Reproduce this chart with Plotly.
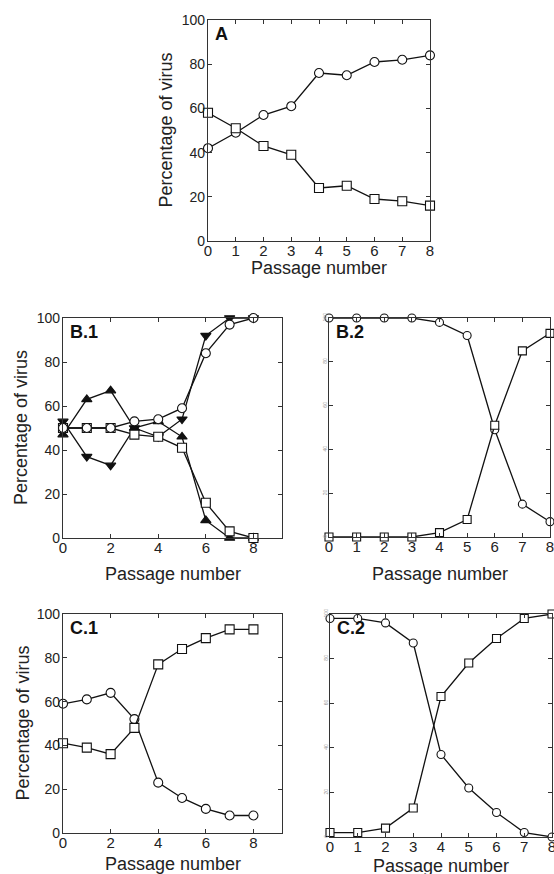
import plotly.graph_objects as go

W, H = 554, 874

passage = [0, 1, 2, 3, 4, 5, 6, 7, 8]

A_circle = [42, 49, 57, 61, 76, 75, 81, 82, 84]
A_square = [58, 51, 43, 39, 24, 25, 19, 18, 16]

B1_circle = [50, 50, 50, 53, 54, 59, 84, 97, 100]
B1_square = [50, 50, 50, 47, 46, 41, 16, 3, 0]
B1_tri_up = [47, 63, 67, 50, 53, 46, 8, 0, 0]
B1_tri_down = [53, 37, 33, 50, 46, 54, 92, 100, 100]

B2_circle = [100, 100, 100, 100, 98, 92, 49, 15, 7]
B2_square = [0, 0, 0, 0, 2, 8, 51, 85, 93]

C1_circle = [59, 61, 64, 52, 23, 16, 11, 8, 8]
C1_square = [41, 39, 36, 48, 77, 84, 89, 93, 93]

C2_circle = [98, 98, 96, 87, 37, 22, 11, 2, 0]
C2_square = [2, 2, 4, 13, 63, 78, 89, 98, 100]

y_ticks = [0, 20, 40, 60, 80, 100]
panel_labels = ["A", "B.1", "B.2", "C.1", "C.2"]
x_title = "Passage number"
y_title = "Percentage of virus"

FONT = "Liberation Sans, Arial, sans-serif"
AX = "#333333"

# panel boxes in pixels: (left, right, top, bottom)
panels = {
    "A": (208, 430, 20, 241),
    "B.1": (63, 282, 318, 538),
    "B.2": (329, 550, 318, 537),
    "C.1": (63, 282, 614, 833),
    "C.2": (330, 552, 614, 837),
}
xranges = {"A": [0, 8], "B.1": [0, 9.2], "B.2": [0, 8], "C.1": [0, 9.2], "C.2": [0, 8]}
xdticks = {"A": 1, "B.1": 2, "B.2": 1, "C.1": 2, "C.2": 1}
tiny_y = {"B.2", "C.2"}

fig = go.Figure()
layout = dict(width=W, height=H,
              margin=dict(l=0, r=0, t=0, b=0, pad=0, autoexpand=False),
              paper_bgcolor="white", plot_bgcolor="white", showlegend=False,
              font=dict(family=FONT, color="#222"))
annotations = []

series = {
    "A": [(A_circle, "circle-open"), (A_square, "square-open")],
    "B.1": [(B1_tri_up, "triangle-up"), (B1_tri_down, "triangle-down"),
            (B1_square, "square-open"), (B1_circle, "circle-open")],
    "B.2": [(B2_circle, "circle-open"), (B2_square, "square-open")],
    "C.1": [(C1_circle, "circle-open"), (C1_square, "square-open")],
    "C.2": [(C2_circle, "circle-open"), (C2_square, "square-open")],
}

for i, name in enumerate(panel_labels):
    l, r, t, b = panels[name]
    n = "" if i == 0 else str(i + 1)
    xa, ya = "xaxis" + n, "yaxis" + n
    layout[xa] = dict(domain=[l / W, r / W], range=xranges[name], anchor="y" + n,
                      tickmode="linear", tick0=0, dtick=xdticks[name],
                      ticks="inside", ticklen=4, tickcolor=AX, showline=True,
                      linecolor=AX, linewidth=1.2, mirror="ticks", showgrid=False,
                      zeroline=False, tickfont=dict(size=15, color="#222"),
                      automargin=False, ticklabelstandoff=-4,
                      ticklabeloverflow="allow")
    ytf = dict(size=5, color="#999") if name in tiny_y else dict(size=14, color="#222")
    layout[ya] = dict(domain=[1 - b / H, 1 - t / H], range=[0, 100], anchor="x" + n,
                      tickmode="array", tickvals=y_ticks,
                      ticks="inside", ticklen=4, tickcolor=AX, showline=True,
                      linecolor=AX, linewidth=1.2, mirror="ticks", showgrid=False,
                      zeroline=False, tickfont=ytf, automargin=False,
                      tickangle=-90 if name in tiny_y else 0,
                      ticklabelstandoff=-1, ticklabeloverflow="allow")
    for vals, sym in series[name]:
        filled = not sym.endswith("open")
        msize = 8 if name in tiny_y else 9
        fig.add_trace(go.Scatter(
            x=passage, y=vals, mode="lines+markers", xaxis="x" + n, yaxis="y" + n,
            cliponaxis=False,
            line=dict(color="#111", width=1.3),
            marker=dict(symbol=sym.replace("-open", ""), size=msize,
                        color="#111" if filled else "white",
                        line=dict(color="#111", width=1.1)),
        ))
    # panel label
    annotations.append(dict(text="<b>%s</b>" % name, x=(l + 5) / W, y=1 - (t + 14) / H,
                            xref="paper", yref="paper", xanchor="left", yanchor="middle",
                            showarrow=False, font=dict(size=18, color="#111")))
    # x title
    xt_y = {"A": 268, "B.1": 574, "B.2": 574, "C.1": 864, "C.2": 866}[name]
    annotations.append(dict(text=x_title, x=(l + r) / 2 / W, y=1 - xt_y / H,
                            xref="paper", yref="paper", xanchor="center", yanchor="middle",
                            showarrow=False, font=dict(size=18, color="#222")))
    if name not in tiny_y:
        yt_x = {"A": 165, "B.1": 21, "C.1": 22}[name]
        annotations.append(dict(text=y_title, x=yt_x / W, y=1 - (t + b) / 2 / H,
                                xref="paper", yref="paper", xanchor="center",
                                yanchor="middle", textangle=-90,
                                showarrow=False, font=dict(size=18, color="#222")))

layout["annotations"] = annotations
fig.update_layout(**layout)
fig.write_html("out.html", config={"displayModeBar": False},
               post_script="document.body.style.margin='0px';document.body.style.padding='0px';document.body.style.overflow='hidden';")
